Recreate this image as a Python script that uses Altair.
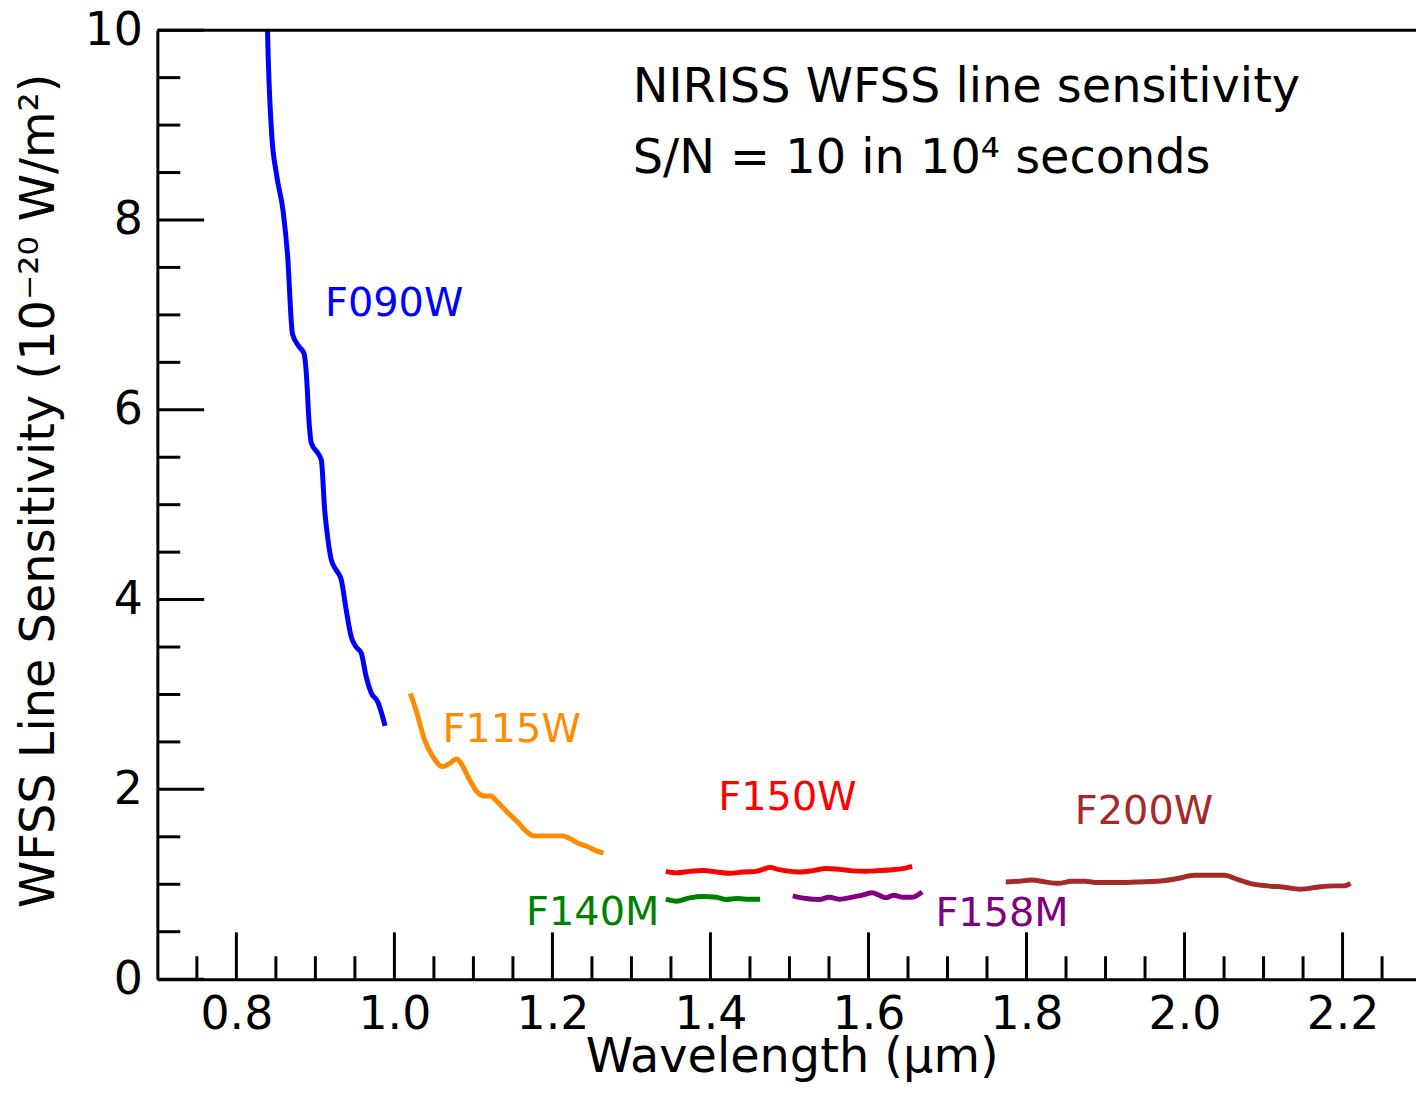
import altair as alt
import pandas as pd

# ---- data ----
f090w_x = [0.8380, 0.8394, 0.8445, 0.8508, 0.8592, 0.8647, 0.8710, 0.8790, 0.8857, 0.8891,
           0.8916, 0.8949, 0.9033, 0.9075, 0.9118, 0.9159, 0.9201, 0.9264, 0.9327, 0.9390,
           0.9453, 0.9516, 0.9579, 0.9642, 0.9705, 0.9790, 0.9882]
f090w_y = [10.6, 10.0, 8.93, 8.48, 8.09, 7.64, 6.80, 6.67, 6.59, 6.31,
           5.92, 5.65, 5.54, 5.47, 4.94, 4.63, 4.42, 4.31, 4.21, 3.89,
           3.61, 3.50, 3.44, 3.19, 3.02, 2.92, 2.67]

f115w_x = [1.0202, 1.0272, 1.0378, 1.0483, 1.0609, 1.0693, 1.0789, 1.0861, 1.0945, 1.1050,
           1.1134, 1.1217, 1.1302, 1.1428, 1.1554, 1.1680, 1.1764, 1.1890, 1.2016, 1.2121,
           1.2226, 1.2332, 1.2436, 1.2562, 1.2647]
f115w_y = [3.01, 2.84, 2.53, 2.35, 2.24, 2.27, 2.32, 2.25, 2.11, 1.97,
           1.93, 1.93, 1.87, 1.76, 1.66, 1.55, 1.51, 1.51, 1.51, 1.51,
           1.48, 1.43, 1.40, 1.35, 1.33]

f150w_x = [1.3435, 1.3570, 1.3738, 1.3907, 1.4074, 1.4242, 1.4411, 1.4578, 1.4663, 1.4755,
           1.4852, 1.4956, 1.5124, 1.5293, 1.5461, 1.5628, 1.5797, 1.5965, 1.6132, 1.6301,
           1.6427, 1.6553]
f150w_y = [1.136, 1.120, 1.136, 1.144, 1.130, 1.115, 1.130, 1.136, 1.157, 1.178,
           1.157, 1.141, 1.130, 1.144, 1.165, 1.157, 1.141, 1.136, 1.144, 1.154,
           1.165, 1.189]

f140m_x = [1.3435, 1.3570, 1.3738, 1.3907, 1.4074, 1.4200, 1.4326, 1.4452, 1.4629]
f140m_y = [0.843, 0.822, 0.857, 0.871, 0.864, 0.839, 0.850, 0.843, 0.843]

f158m_x = [1.5041, 1.5209, 1.5376, 1.5502, 1.5628, 1.5797, 1.5923, 1.6049, 1.6132, 1.6217,
           1.6321, 1.6427, 1.6553, 1.6679]
f158m_y = [0.878, 0.850, 0.839, 0.864, 0.843, 0.864, 0.885, 0.910, 0.885, 0.857,
           0.885, 0.864, 0.864, 0.920]

f200w_x = [1.7738, 1.7897, 1.8066, 1.8233, 1.8401, 1.8570, 1.8737, 1.8905, 1.9157, 1.9409,
           1.9661, 1.9913, 2.0124, 2.0334, 2.0502, 2.0670, 2.0838, 2.1048, 2.1258, 2.1469,
           2.1679, 2.1890, 2.2016, 2.2100]
f200w_y = [1.025, 1.031, 1.046, 1.025, 1.010, 1.031, 1.031, 1.018, 1.018, 1.025,
           1.031, 1.060, 1.094, 1.094, 1.094, 1.052, 1.007, 0.983, 0.969, 0.948,
           0.969, 0.983, 0.983, 1.010]

bands = ["F090W", "F115W", "F150W", "F140M", "F158M", "F200W"]
band_colors = ["#0000ff", "#ff8c00", "#ff0000", "#008000", "#800080", "#a52a2a"]

label_x = [0.9122, 1.0609, 1.4100, 1.1667, 1.6847, 1.8611]
label_y = [6.99, 2.497, 1.784, 0.567, 0.556, 1.637]

note_lines = ["NIRISS WFSS line sensitivity", "S/N = 10 in 10\u2074 seconds"]
note_x = [1.3016, 1.3016]
note_y = [9.245, 8.49]

x_tick_labels = [0.8, 1.0, 1.2, 1.4, 1.6, 1.8, 2.0, 2.2]
x_minor = [0.75, 0.85, 0.9, 0.95, 1.05, 1.1, 1.15, 1.25, 1.3, 1.35, 1.45, 1.5, 1.55,
           1.65, 1.7, 1.75, 1.85, 1.9, 1.95, 2.05, 2.1, 2.15, 2.25]
y_tick_labels = [0, 2, 4, 6, 8, 10]
y_minor = [0.5, 1, 1.5, 2.5, 3, 3.5, 4.5, 5, 5.5, 6.5, 7, 7.5, 8.5, 9, 9.5]

# ---- build tables ----
series = {
    "F090W": (f090w_x, f090w_y),
    "F115W": (f115w_x, f115w_y),
    "F150W": (f150w_x, f150w_y),
    "F140M": (f140m_x, f140m_y),
    "F158M": (f158m_x, f158m_y),
    "F200W": (f200w_x, f200w_y),
}
rows = []
for b, (xs, ys) in series.items():
    for xv, yv in zip(xs, ys):
        rows.append({"band": b, "wl": xv, "sens": yv})
df = pd.DataFrame(rows)
df_labels = pd.DataFrame({"band": bands, "wl": label_x, "sens": label_y})
df_notes = pd.DataFrame({"txt": note_lines, "wl": note_x, "sens": note_y})

W = 1264
H = 953
FONT = "DejaVu Sans"

xscale = alt.Scale(domain=[0.7, 0.7 + W / 793.5], nice=False, zero=False)
yscale = alt.Scale(domain=[0, 10], nice=False, zero=False)
cscale = alt.Scale(domain=bands, range=band_colors)

xaxis = alt.Axis(values=x_tick_labels, format=".1f", ticks=False, tickSize=0, grid=False,
                 labelFontSize=46, labelPadding=14, labelFont=FONT, labelColor="black",
                 title="Wavelength (\u03bcm)", titleFont=FONT, titleFontSize=48,
                 titleFontWeight="normal", titleColor="black",
                 titleX=637, titleY=93, titleBaseline="alphabetic", titleAlign="center",
                 domainColor="black", domainWidth=3)
yaxis = alt.Axis(values=y_tick_labels, format="d", ticks=False, tickSize=0, grid=False,
                 labelFontSize=46, labelPadding=15, labelFont=FONT, labelColor="black",
                 title="WFSS Line Sensitivity (10\u207b\u00b2\u2070 W/m\u00b2)",
                 titleFont=FONT, titleFontSize=48, titleFontWeight="normal", titleColor="black",
                 titleAngle=270, titleX=-104, titleY=462, titleBaseline="alphabetic",
                 titleAlign="center", domainColor="black", domainWidth=3)

X = alt.X("wl:Q", scale=xscale, axis=xaxis)
Y = alt.Y("sens:Q", scale=yscale, axis=yaxis)

lines = alt.Chart(df).mark_line(strokeWidth=5, clip=True, interpolate="monotone").encode(
    x=X, y=Y,
    color=alt.Color("band:N", scale=cscale, legend=None),
)

labels = alt.Chart(df_labels).mark_text(align="left", baseline="alphabetic",
                                        fontSize=40, font=FONT).encode(
    x=X, y=Y,
    text="band:N",
    color=alt.Color("band:N", scale=cscale, legend=None),
)

notes = alt.Chart(df_notes).mark_text(align="left", baseline="alphabetic",
                                      fontSize=48, font=FONT, color="black").encode(
    x=X, y=Y, text="txt:N",
)

xmaj = alt.Chart(pd.DataFrame({"wl": x_tick_labels})).mark_rule(color="black", strokeWidth=3).encode(
    x=X, y=alt.value(H), y2=alt.value(H - 47))
xmin = alt.Chart(pd.DataFrame({"wl": x_minor})).mark_rule(color="black", strokeWidth=3).encode(
    x=X, y=alt.value(H), y2=alt.value(H - 23))
ymaj = alt.Chart(pd.DataFrame({"sens": y_tick_labels})).mark_rule(color="black", strokeWidth=3).encode(
    y=Y, x=alt.value(0), x2=alt.value(47))
ymin = alt.Chart(pd.DataFrame({"sens": y_minor})).mark_rule(color="black", strokeWidth=3).encode(
    y=Y, x=alt.value(0), x2=alt.value(23))
top = alt.Chart(pd.DataFrame({"v": [0]})).mark_rule(color="black", strokeWidth=3).encode(
    x=alt.value(0), x2=alt.value(W), y=alt.value(0))

chart = alt.layer(lines, labels, notes, xmaj, xmin, ymaj, ymin, top).properties(
    width=W, height=H,
    padding={"left": 150, "top": 20, "right": 0, "bottom": 105},
    autosize=alt.AutoSizeParams(type="none"),
    background="white",
).configure_view(stroke=None)

chart.save("out.html", embed_options={"renderer": "svg", "actions": False})
